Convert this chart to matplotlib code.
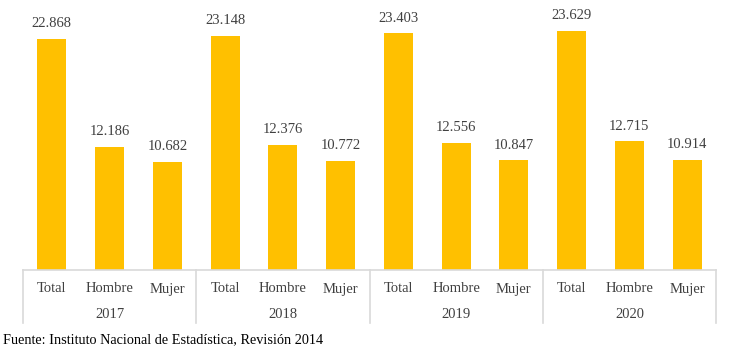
import matplotlib.pyplot as plt

years = ['2017', '2018', '2019', '2020']
categories = ['Total', 'Hombre', 'Mujer']
total = [22.868, 23.148, 23.403, 23.629]
hombre = [12.186, 12.376, 12.556, 12.715]
mujer = [10.682, 10.772, 10.847, 10.914]

plt.rcParams['font.family'] = ['Liberation Serif', 'DejaVu Serif']
text_col = '#404040'
line_col = '#D9D9D9'
bar_col = '#FFC000'

values = []
labels = []
for i in range(len(years)):
    for cat, ser in zip(categories, [total, hombre, mujer]):
        values.append(ser[i])
        labels.append(cat)

fig = plt.figure(figsize=(7.37, 3.58), dpi=100)
ax = fig.add_axes([23 / 737, 88 / 358, 693 / 737, 270 / 358])
x = list(range(len(values)))
bars = ax.bar(x, values, width=0.5, color=bar_col, zorder=2)
for xi, v in zip(x, values):
    ax.text(xi, v + 0.85, f'{v:.3f}', ha='center', va='bottom', fontsize=10.5, color=text_col)

ax.set_xlim(-0.5, len(values) - 0.5)
ax.set_ylim(0, 26.7)
ax.set_yticks([])
ax.set_xticks([])
for s in ['top', 'right', 'left']:
    ax.spines[s].set_visible(False)
ax.spines['bottom'].set_color(line_col)
ax.spines['bottom'].set_linewidth(1.2)

trans = ax.get_xaxis_transform()
for xi, lab in zip(x, labels):
    ax.text(xi, -19 / 270, lab, transform=trans, ha='center', va='center', fontsize=10.5, color=text_col)
for i, yr in enumerate(years):
    ax.text(3 * i + 1, -44 / 270, yr, transform=trans, ha='center', va='center', fontsize=10.5, color=text_col)
for i in range(len(years) + 1):
    ax.plot([3 * i - 0.5, 3 * i - 0.5], [0, -53 / 270], transform=trans, color=line_col,
            linewidth=1.2, clip_on=False)

fig.text(3 / 737, 1 - 340 / 358, 'Fuente: Instituto Nacional de Estadística, Revisión 2014',
         ha='left', va='center', fontsize=10.3, color='black')

fig.savefig('out.png', dpi=100)
